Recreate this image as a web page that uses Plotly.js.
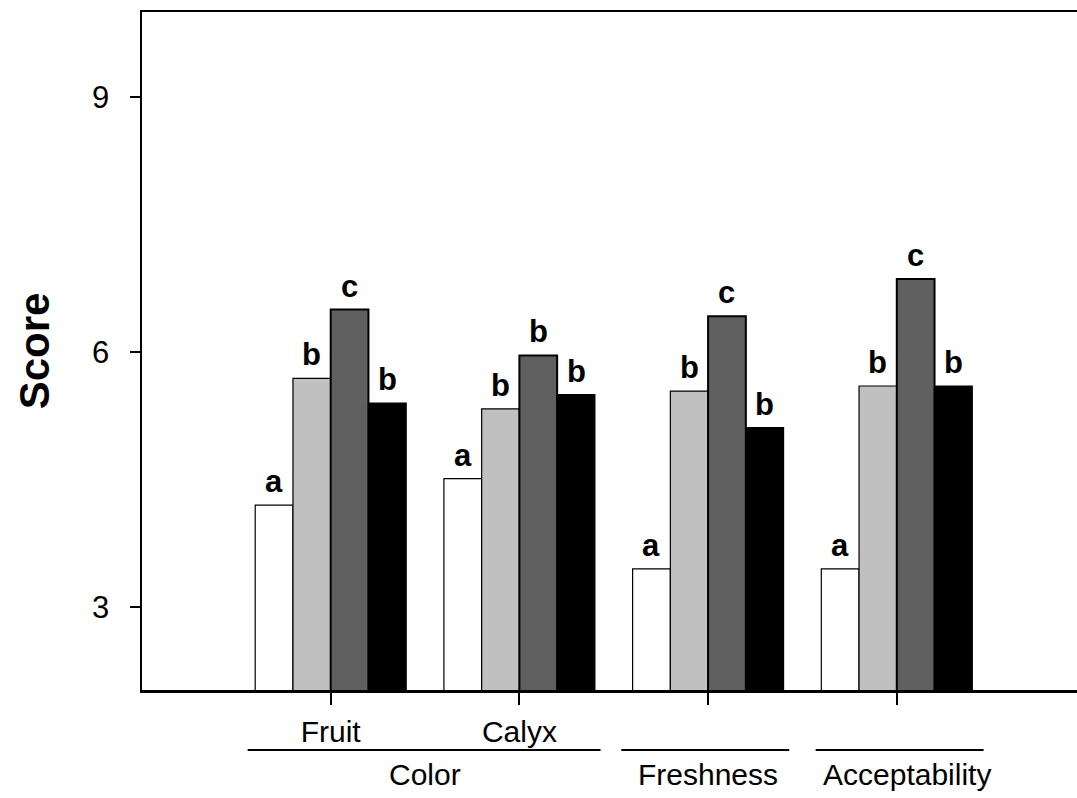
<!DOCTYPE html>
<html>
<head>
<meta charset="utf-8">
<script src="https://cdn.plot.ly/plotly-3.0.1.min.js"></script>
<style>html,body{margin:0;padding:0;background:#fff;}#chart{width:1077px;height:798px;}</style>
</head>
<body>
<div id="chart"></div>
<script>
// Categories and tick labels
const categories = ["Fruit", "Calyx", "Freshness", "Acceptability"];
const tickLabels = ["Fruit", "Calyx", "", ""];
// Series values (score), one per treatment
const seriesNames = ["T1", "T2", "T3", "T4"];
const valuesT1 = [4.20, 4.51, 3.45, 3.45];
const valuesT2 = [5.69, 5.33, 5.54, 5.60];
const valuesT3 = [6.50, 5.96, 6.42, 6.86];
const valuesT4 = [5.40, 5.50, 5.11, 5.60];
// Significance letters
const lettersT1 = ["a", "a", "a", "a"];
const lettersT2 = ["b", "b", "b", "b"];
const lettersT3 = ["c", "b", "c", "c"];
const lettersT4 = ["b", "b", "b", "b"];
// Group labels under the axis
const groupNames = ["Color", "Freshness", "Acceptability"];

const FONT = 'Arial, "Liberation Sans", sans-serif';
const allValues = [valuesT1, valuesT2, valuesT3, valuesT4];
const allLetters = [lettersT1, lettersT2, lettersT3, lettersT4];
const fills = ["#ffffff", "#c0c0c0", "#606060", "#000000"];
const lineWidths = [1.2, 1.2, 2, 1.2];
const bargap = 0.2;
const nSeries = allValues.length;
const barW = (1 - bargap) / nSeries;

const traces = allValues.map((vals, j) => ({
  type: "bar",
  name: seriesNames[j],
  x: categories,
  y: vals,
  marker: {color: fills[j], line: {color: "#000", width: lineWidths[j]}},
  showlegend: false,
  hoverinfo: "y"
}));

const annotations = [];
allValues.forEach((vals, j) => {
  vals.forEach((v, i) => {
    annotations.push({
      x: i + (j - (nSeries - 1) / 2) * barW,
      y: v,
      xref: "x", yref: "y",
      text: "<b>" + allLetters[j][i] + "</b>",
      showarrow: false,
      yanchor: "bottom",
      yshift: 4,
      font: {family: FONT, size: 31, color: "#000"}
    });
  });
});

// group labels (Color spans Fruit+Calyx)
const groupCenters = [0.5, 2, 3];
const groupShift = [0, 0, 10];
const groupSpans = [[-0.44, 1.43], [1.54, 2.43], [2.57, 3.46]];
const plotH = 798 - 12 - 108;
const lineY = -(750 - 690) / plotH;
const textY = -(774 - 690) / plotH;
const shapes = [];
groupNames.forEach((g, k) => {
  annotations.push({
    x: groupCenters[k], y: textY, xref: "x", yref: "paper",
    xshift: groupShift[k],
    text: g, showarrow: false, yanchor: "middle",
    font: {family: FONT, size: 30, color: "#000"}
  });
  shapes.push({
    type: "line", xref: "x", yref: "paper",
    x0: groupSpans[k][0], x1: groupSpans[k][1], y0: lineY, y1: lineY,
    line: {color: "#000", width: 2}
  });
});

const layout = {
  width: 1077, height: 798,
  margin: {l: 142, r: 0, t: 12, b: 108, pad: 0},
  paper_bgcolor: "#fff", plot_bgcolor: "#fff",
  barmode: "group", bargap: bargap, bargroupgap: 0,
  font: {family: FONT, color: "#000"},
  xaxis: {
    type: "category",
    range: [-1, 3.955],
    tickmode: "array",
    tickvals: categories,
    ticktext: tickLabels,
    ticks: "outside", ticklen: 12, tickwidth: 2, tickcolor: "#000",
    showline: true, linewidth: 2.5, linecolor: "#000", mirror: true,
    showgrid: false, zeroline: false,
    tickfont: {family: FONT, size: 30, color: "#000"},
    ticklabelstandoff: 1
  },
  yaxis: {
    range: [2.024, 10],
    tickvals: [3, 6, 9],
    ticks: "outside", ticklen: 10, tickwidth: 2, tickcolor: "#000",
    showline: true, linewidth: 2.5, linecolor: "#000", mirror: false,
    showgrid: false, zeroline: false,
    tickfont: {family: FONT, size: 31, color: "#000"},
    ticklabelstandoff: 14,
    title: {text: "<b>Score</b>", font: {family: FONT, size: 42, color: "#000"}, standoff: 30}
  },
  annotations: annotations,
  shapes: shapes
};

Plotly.newPlot("chart", traces, layout, {displayModeBar: false, staticPlot: true});
</script>
</body>
</html>
